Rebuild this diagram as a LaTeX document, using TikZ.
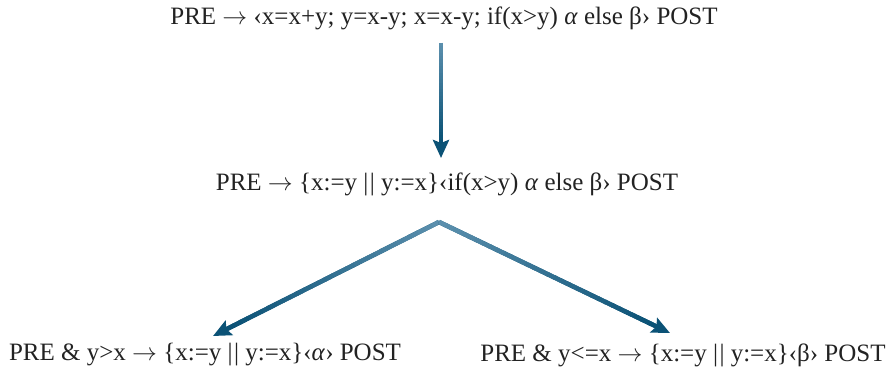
\documentclass[tikz,border=0pt]{standalone}
\usepackage{fontspec}
\setmainfont{Liberation Serif}
\usetikzlibrary{arrows.meta,calc}
\definecolor{arrowlight}{HTML}{5B8FAD}
\definecolor{arrowdark}{HTML}{0B5276}
\definecolor{txtcol}{HTML}{222222}
\newcommand\impl{\ensuremath{\rightarrow}}
\newcommand\parl{|\kern1.5pt|}
\tikzset{
  lbl/.style={font=\fontsize{25}{29}\selectfont, text=txtcol, inner sep=0pt},
  shaft/.style={line width=4.5pt},
}
\newcommand\gradarrow[2]{%
  \draw[shaft, arrowdark, -{Stealth[length=18pt,width=16pt,inset=3pt]}] (#1) -- (#2);
  \coordinate (gaend) at ($(#2)!16pt!(#1)$);
  \foreach \i in {0,...,29}{%
    \pgfmathtruncatemacro\pc{100-\i*100/29}
    \draw[shaft, color=arrowlight!\pc!arrowdark] ($(#1)!{\i/30}!(gaend)$) -- ($(#1)!{(\i+1.15)/30}!(gaend)$);
  }%
}
\begin{document}
\begin{tikzpicture}[x=1pt,y=-1pt]
\useasboundingbox (0,0) rectangle (888,377);
\node[lbl] (top) at (444,18) {PRE \impl{} ‹x=x+y; y=x-y; x=x-y; if(x>y) \textit{α} else β› POST};
\node[lbl] (mid) at (447,184) {PRE \impl{} \{x:=y \parl{} y:=x\}‹if(x>y) \textit{α} else β› POST};
\node[lbl] (bl) at (205,355) {PRE \& y>x \impl{} \{x:=y \parl{} y:=x\}‹\textit{α}› POST};
\node[lbl] (br) at (683,355) {PRE \& y<=x \impl{} \{x:=y \parl{} y:=x\}‹β› POST};
\coordinate (v0) at (441,43);
\coordinate (v1) at (441,158);
\coordinate (apex) at (439,222);
\coordinate (lt) at (213,336);
\coordinate (rt) at (670,333);
\gradarrow{v0}{v1}
\gradarrow{apex}{lt}
\gradarrow{apex}{rt}
\end{tikzpicture}
\end{document}
